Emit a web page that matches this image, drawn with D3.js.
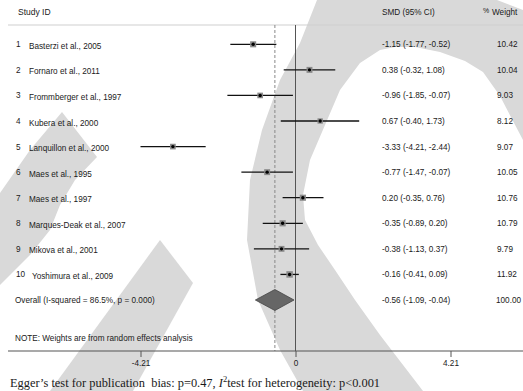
<!DOCTYPE html>
<html>
<head>
<meta charset="utf-8">
<script src="https://cdn.jsdelivr.net/npm/d3@7"></script>
<style>
  body { margin: 0; background: #fff; }
  svg { display: block; }
  text { font-family: "Liberation Sans", Arial, sans-serif; fill: #1a1a1a; }
</style>
</head>
<body>
<svg id="plot"></svg>
<script>
// studies and estimates (SMD, 95% CI, % weight)
const studies = [
    "Basterzi et al., 2005", "Fornaro et al., 2011", "Frommberger et al., 1997",
    "Kubera et al., 2000", "Lanquillon et al., 2000", "Maes et al., 1995",
    "Maes et al., 1997", "Marques-Deak et al., 2007", "Mikova et al., 2001",
    "Yoshimura et al., 2009"
];
const smd     = [-1.15, 0.38, -0.96, 0.67, -3.33, -0.77, 0.20, -0.35, -0.38, -0.16];
const ciLow   = [-1.77, -0.32, -1.85, -0.40, -4.21, -1.47, -0.35, -0.89, -1.13, -0.41];
const ciHigh  = [-0.52, 1.08, -0.07, 1.73, -2.44, -0.07, 0.76, 0.20, 0.37, 0.09];
const weights = [10.42, 10.04, 9.03, 8.12, 9.07, 10.05, 10.76, 10.79, 9.79, 11.92];

// pooled random effects result
const overallEst = -0.56;
const overallCI  = [-1.09, -0.04];
const overallWeight = 100.00;
const iSquared = "86.5%";
const hetP = "0.000";

const xTicks = [-4.21, 0, 4.21];

const width = 523, height = 391;
const fs = 8.2;
const svg = d3.select("#plot").attr("width", width).attr("height", height);

// grey watermark in the background of the scanned figure
const wm = svg.append("g").attr("fill", "#d9d9d9");
const poly = d3.line();
wm.append("path").attr("d", poly([
    [303,391],[280,350],[258,300],[247,240],[250,180],[262,130],[280,80],[300,43],[317,0],
    [497,0],[523,10],[523,140],[513,121],[500,96],[483,72],[465,61],[440,52],[415,47],
    [395,47],[380,50],[360,63],[340,90],[325,125],[310,160],[303,195],[305,220],[318,245],
    [335,270],[355,300],[380,335],[423,391]
]) + "Z");
wm.append("path").attr("d", poly([
    [62,112],[97,157],[75,180],[60,205],[50,230],[30,255],[0,285],[0,193],[30,150]
]) + "Z");
wm.append("path").attr("d", poly([[160,240],[193,283],[133,391],[50,391]]) + "Z");

const x = d3.scaleLinear().domain([-4.21, 4.21]).range([140.5, 450.5]);
const y = d3.scaleLinear().domain([0, studies.length]).range([44.3, 300]);
const box = d3.scaleSqrt().domain([0, 12]).range([0, 6.5]);
const axisY = 351, topY = 25;

// header
svg.append("text").attr("x", 18).attr("y", 14.5).attr("font-size", fs + 0.3).text("Study ID");
svg.append("text").attr("x", 382).attr("y", 15).attr("font-size", fs).text("SMD (95% CI)");
svg.append("text").attr("x", 483).attr("y", 13).attr("font-size", 7).text("%");
svg.append("text").attr("x", 492).attr("y", 15).attr("font-size", fs).text("Weight");
svg.append("line").attr("x1", 8).attr("x2", width).attr("y1", topY).attr("y2", topY)
    .attr("stroke", "#cfcfcf").attr("stroke-width", 1.2);

// reference lines
svg.append("line").attr("x1", x(0)).attr("x2", x(0)).attr("y1", topY).attr("y2", axisY)
    .attr("stroke", "#555").attr("stroke-width", 1);
svg.append("line").attr("x1", x(overallEst)).attr("x2", x(overallEst))
    .attr("y1", topY).attr("y2", axisY)
    .attr("stroke", "#888").attr("stroke-width", 1).attr("stroke-dasharray", "3,2");

// study rows
const rows = svg.append("g").selectAll("g").data(studies).join("g")
    .attr("transform", (d, i) => `translate(0,${y(i)})`);

rows.append("line")
    .attr("x1", (d, i) => x(ciLow[i])).attr("x2", (d, i) => x(ciHigh[i]))
    .attr("stroke", "#111").attr("stroke-width", 1.3);
rows.append("rect")
    .attr("x", (d, i) => x(smd[i]) - box(weights[i]) / 2)
    .attr("y", (d, i) => -box(weights[i]) / 2)
    .attr("width", (d, i) => box(weights[i]))
    .attr("height", (d, i) => box(weights[i]))
    .attr("fill", "#8a8a8a");
rows.append("circle").attr("cx", (d, i) => x(smd[i])).attr("r", 1.7).attr("fill", "#000");

rows.append("text").attr("x", 16).attr("y", 3).attr("font-size", fs)
    .text((d, i) => i + 1);
rows.append("text").attr("x", (d, i) => i < 9 ? 29 : 32).attr("y", 4.5).attr("font-size", fs)
    .text(d => d);
rows.append("text").attr("x", 382).attr("y", 3).attr("font-size", fs)
    .text((d, i) => `${smd[i].toFixed(2)} (${ciLow[i].toFixed(2)}, ${ciHigh[i].toFixed(2)})`);
rows.append("text").attr("x", 497).attr("y", 3).attr("font-size", fs)
    .text((d, i) => weights[i].toFixed(2));

// overall row
const yo = y(studies.length);
svg.append("path")
    .attr("d", d3.line()([
        [x(overallCI[0]), yo], [x(overallEst), yo - 10.5],
        [x(overallCI[1]), yo], [x(overallEst), yo + 10.5]
    ]) + "Z")
    .attr("fill", "#666").attr("stroke", "#444").attr("stroke-width", 0.8);
svg.append("text").attr("x", 15).attr("y", yo + 3).attr("font-size", fs)
    .text(`Overall  (I-squared = ${iSquared}, p = ${hetP})`);
svg.append("text").attr("x", 382).attr("y", yo + 3).attr("font-size", fs)
    .text(`${overallEst.toFixed(2)} (${overallCI[0].toFixed(2)}, ${overallCI[1].toFixed(2)})`);
svg.append("text").attr("x", 496).attr("y", yo + 3).attr("font-size", fs)
    .text(overallWeight.toFixed(2));

svg.append("text").attr("x", 15).attr("y", 341).attr("font-size", fs)
    .text("NOTE: Weights are from random effects analysis");

// x axis
svg.append("line").attr("x1", 8).attr("x2", width).attr("y1", axisY).attr("y2", axisY)
    .attr("stroke", "#555").attr("stroke-width", 1.2);
const ax = svg.append("g").attr("transform", `translate(0,${axisY})`)
    .call(d3.axisBottom(x).tickValues(xTicks).tickSize(6).tickPadding(3)
        .tickFormat(d => String(d)));
ax.select(".domain").remove();
ax.selectAll(".tick line").attr("stroke", "#555");
ax.selectAll(".tick text").attr("font-size", fs).attr("fill", "#1a1a1a")
    .attr("font-family", "'Liberation Sans', Arial, sans-serif");

// caption under the plot
const cap = svg.append("text").attr("x", 10).attr("y", 387)
    .style("font-family", "'Liberation Serif', 'Times New Roman', serif")
    .attr("font-size", 12.4).attr("fill", "#111");
cap.append("tspan").text("Egger\u2019s test for publication\u00a0 bias: p=0.47, ");
cap.append("tspan").attr("font-style", "italic").text("I");
cap.append("tspan").attr("font-size", 8.5).attr("dy", -5).text("2");
cap.append("tspan").attr("dy", 5).text("test for heterogeneity: p<0.001");
</script>
</body>
</html>
